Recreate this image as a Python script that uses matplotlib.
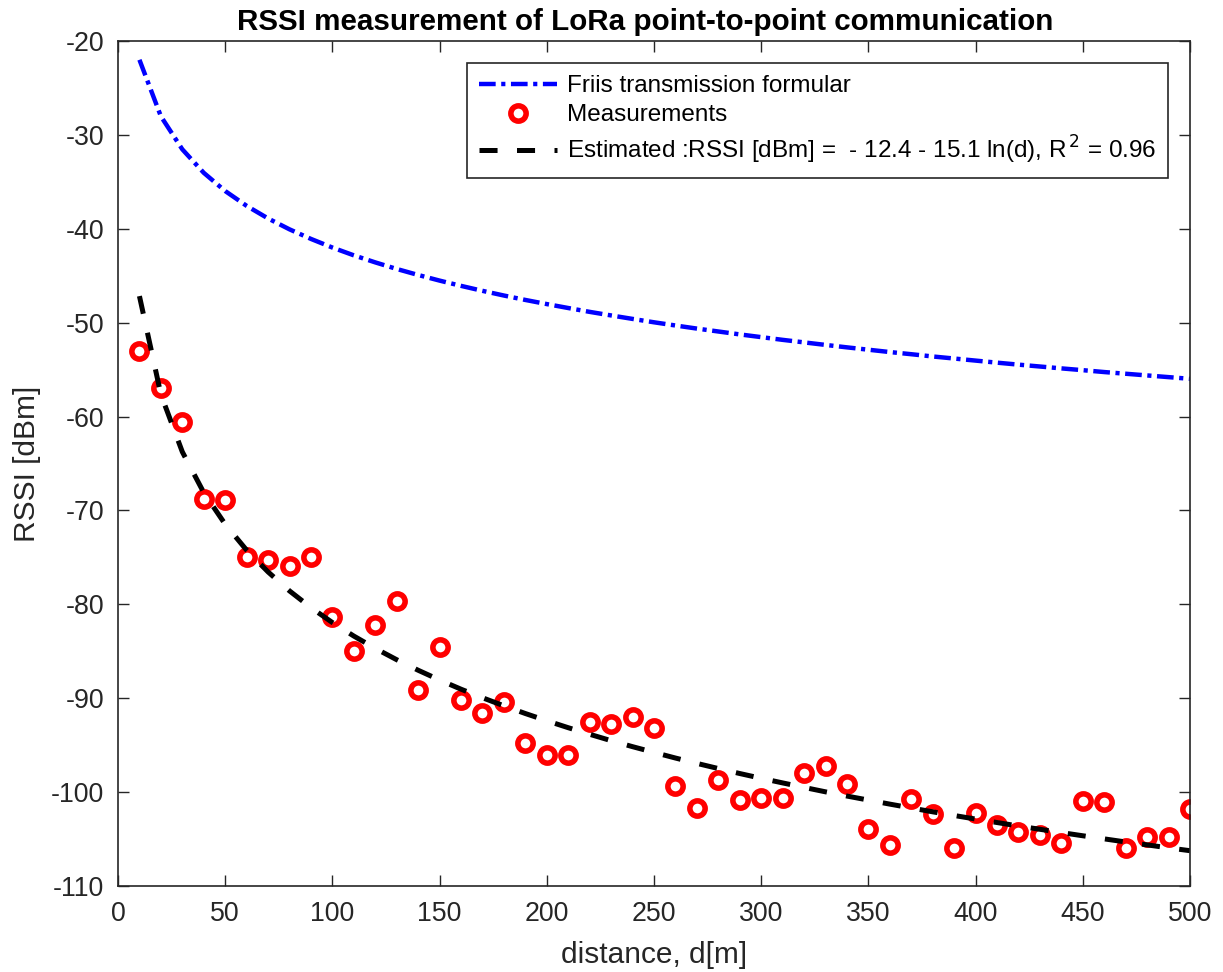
import matplotlib
matplotlib.use("Agg")
import matplotlib.pyplot as plt

plt.rcParams['font.family'] = ['Liberation Sans', 'DejaVu Sans']
plt.rcParams['lines.scale_dashes'] = False
plt.rcParams['axes.unicode_minus'] = False

distance = [10, 20, 30, 40, 50, 60, 70, 80, 90, 100,
            110, 120, 130, 140, 150, 160, 170, 180, 190, 200,
            210, 220, 230, 240, 250, 260, 270, 280, 290, 300,
            310, 320, 330, 340, 350, 360, 370, 380, 390, 400,
            410, 420, 430, 440, 450, 460, 470, 480, 490, 500]

measured = [-53.0, -57.0, -60.6, -68.8, -68.9, -75.0, -75.3, -75.9, -75.0, -81.4,
            -85.0, -82.2, -79.6, -89.1, -84.5, -90.2, -91.6, -90.4, -94.8, -96.0,
            -96.1, -92.5, -92.7, -92.0, -93.2, -99.4, -101.7, -98.7, -100.8, -100.6,
            -100.6, -98.0, -97.2, -99.1, -103.9, -105.6, -100.7, -102.3, -105.9, -102.2,
            -103.5, -104.3, -104.6, -105.4, -100.9, -101.1, -106.0, -104.8, -104.8, -101.8]

friis = [-22.00, -28.02, -31.54, -34.04, -35.98, -37.56, -38.90, -40.06, -41.08, -42.00,
         -42.83, -43.58, -44.28, -44.92, -45.52, -46.08, -46.61, -47.11, -47.58, -48.02,
         -48.44, -48.85, -49.23, -49.60, -49.96, -50.30, -50.63, -50.94, -51.25, -51.54,
         -51.83, -52.10, -52.37, -52.63, -52.88, -53.13, -53.36, -53.60, -53.82, -54.04,
         -54.26, -54.47, -54.67, -54.87, -55.06, -55.26, -55.44, -55.62, -55.80, -55.98]

estimated = [-47.17, -57.64, -63.76, -68.10, -71.47, -74.23, -76.55, -78.57, -80.35, -81.94,
             -83.38, -84.69, -85.90, -87.02, -88.06, -89.04, -89.95, -90.81, -91.63, -92.40,
             -93.14, -93.84, -94.52, -95.16, -95.77, -96.37, -96.94, -97.49, -98.02, -98.53,
             -99.02, -99.50, -99.97, -100.42, -100.85, -101.28, -101.69, -102.10, -102.49, -102.87,
             -103.24, -103.61, -103.96, -104.31, -104.65, -104.98, -105.31, -105.62, -105.94, -106.24]

xticks = [0, 50, 100, 150, 200, 250, 300, 350, 400, 450, 500]
yticks = [-110, -100, -90, -80, -70, -60, -50, -40, -30, -20]

fig = plt.figure(figsize=(12.23, 9.72), dpi=100)
ax = fig.add_axes([118/1223, 86/972, 1072/1223, 845/972])

ax.plot(distance, friis, color='#0000ff', linewidth=3.2, dashes=(12, 4, 3, 4),
        label='Friis transmission formular')
ax.plot(distance, measured, linestyle='none', marker='o', markersize=11,
        markerfacecolor='none', markeredgecolor='#ff0000', markeredgewidth=4,
        label='Measurements')
ax.plot(distance, estimated, color='black', linewidth=3.6, dashes=(13, 14),
        label='Estimated :RSSI [dBm] =  - 12.4 - 15.1 ln(d), R$^{\\,2}$ = 0.96')

ax.set_xlim(0, 500)
ax.set_ylim(-110, -20)
ax.set_xticks(xticks)
ax.set_yticks(yticks)
ax.tick_params(direction='in', length=8, width=1, colors='#262626',
               labelsize=19.3, top=True, right=True)
ax.tick_params(axis='x', pad=11)
ax.tick_params(axis='y', pad=10)
for s in ax.spines.values():
    s.set_color('#262626')
    s.set_linewidth(1.2)

ax.set_xlabel('distance, d[m]', fontsize=21.5, color='#262626', labelpad=10)
ax.set_ylabel('RSSI [dBm]', fontsize=21.5, color='#262626', labelpad=7)
ax.set_title('RSSI measurement of LoRa point-to-point communication',
             fontsize=21.3, fontweight='bold', pad=8, x=0.492)

leg = ax.legend(loc='upper right', bbox_to_anchor=(1 - 22/1072, 1 - 22/845),
                fontsize=17.5, frameon=True, fancybox=False, framealpha=1,
                edgecolor='#262626', handlelength=3.2, borderpad=0.5,
                labelspacing=0.3, handletextpad=0.4, borderaxespad=0)
leg.get_frame().set_linewidth(1.2)

fig.savefig('out.png', dpi=100)
